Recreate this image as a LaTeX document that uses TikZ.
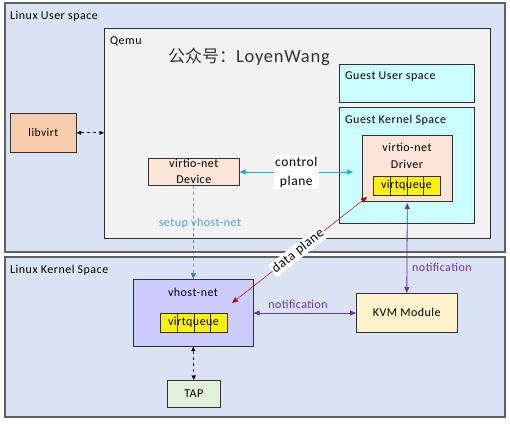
\documentclass[tikz,border=0pt]{standalone}
\usepackage{fontspec}
\setmainfont{Carlito}[LetterSpace=4]
\newfontfamily\cjk{Noto Sans CJK SC}
\usetikzlibrary{arrows.meta,shadows}
\definecolor{spacecol}{HTML}{DAE3F3}
\definecolor{qemucol}{HTML}{F2F2F2}
\definecolor{libvirtcol}{HTML}{F8CBAD}
\definecolor{devcol}{HTML}{FBE5D6}
\definecolor{guestcol}{HTML}{CCFFFF}
\definecolor{vhostcol}{HTML}{CCCCFF}
\definecolor{tapcol}{HTML}{E2F0D9}
\definecolor{kvmcol}{HTML}{FFF2CC}
\definecolor{purp}{HTML}{7030A0}
\definecolor{cblue}{HTML}{00B0F0}
\definecolor{sblue}{HTML}{4472C4}
\definecolor{stext}{HTML}{5B9BD5}
\definecolor{dred}{HTML}{C00000}
\definecolor{edge}{HTML}{303030}
\begin{document}
\begin{tikzpicture}[x=1pt,y=-1pt,
  font=\fontsize{12}{14}\selectfont,
  spacebox/.style={draw=gray!75!black,line width=1.2pt,fill=spacecol},
  bx/.style={draw=edge,line width=0.6pt,inner sep=0pt},
  shad/.style={drop shadow={shadow xshift=1pt,shadow yshift=-1pt,opacity=0.2}},
  lbl/.style={anchor=west,inner sep=0pt,text=black},
  tipa/.style={-{Triangle[width=5pt,length=6pt]}},
  tipb/.style={{Triangle[width=5pt,length=6pt]}-{Triangle[width=5pt,length=6pt]}},
  tips/.style={{Triangle[width=4pt,length=4.5pt]}-{Triangle[width=4pt,length=4.5pt]}},
]
\useasboundingbox (0,0) rectangle (510,425);
% spaces
\draw[spacebox] (5,3) rectangle (505,252);
\node[lbl] (uslbl) at (10,16) {Linux User space};
\draw[spacebox] (5,257) rectangle (505,417);
\node[lbl] (kslbl) at (10,270) {Linux Kernel Space};
% qemu
\node[bx,fill=qemucol,anchor=north west,minimum width=386pt,minimum height=210pt] (qemu) at (104,28) {};
\node[lbl] (qemulbl) at (110,41) {Qemu};
\node[anchor=west,inner sep=0pt,text=black!80] (title) at (168,57) {{\fontsize{17}{20}\selectfont\cjk 公众号：}{\fontsize{18.5}{22}\selectfont LoyenWang}};
% libvirt
\node[bx,shad,fill=libvirtcol,anchor=north west,minimum width=66pt,minimum height=39pt,font=\fontsize{11.5}{14}\selectfont] (libvirt) at (10,113) {libvirt};
% device
\node[bx,shad,fill=devcol,anchor=north west,minimum width=91pt,minimum height=27pt,align=center,font=\fontsize{12}{16}\selectfont] (device) at (148,158) {virtio-net\\Device};
% guest
\node[bx,fill=guestcol,anchor=north west,minimum width=135pt,minimum height=38pt] (guestuser) at (339,64) {};
\node[lbl] (gulbl) at (345,77) {Guest User space};
\node[bx,fill=guestcol,anchor=north west,minimum width=135pt,minimum height=116pt] (guestkernel) at (339,107) {};
\node[lbl] (gklbl) at (345,120) {Guest Kernel Space};
\node[bx,shad,fill=devcol,anchor=north west,minimum width=90pt,minimum height=66pt] (driver) at (362,135) {};
\node[inner sep=0pt,align=center,font=\fontsize{12}{16.5}\selectfont] (drvlbl) at (407,156) {virtio-net\\Driver};
% virtqueue in driver
\foreach \i in {0,1,2,3}{
  \node[bx,fill=yellow,anchor=north west,minimum width=16.75pt,minimum height=19pt] (dq\i) at (373+16.75*\i,176) {};
}
\node[inner sep=0pt] (dqlbl) at (406.5,185.5) {virtqueue};
% vhost-net
\node[bx,shad,fill=vhostcol,anchor=north west,minimum width=120pt,minimum height=67pt] (vhost) at (133,279) {};
\node[inner sep=0pt] (vhlbl) at (193,292) {vhost-net};
\foreach \i in {0,1,2,3}{
  \node[bx,fill=yellow,anchor=north west,minimum width=16.75pt,minimum height=19pt] (vq\i) at (160+16.75*\i,313) {};
}
\node[inner sep=0pt] (vqlbl) at (193.5,322.5) {virtqueue};
% TAP
\node[bx,shad,fill=tapcol,anchor=north west,minimum width=53pt,minimum height=27pt] (tap) at (167,380) {TAP};
% KVM
\node[bx,shad,fill=kvmcol,anchor=north west,minimum width=101pt,minimum height=39pt] (kvm) at (356,293) {KVM Module};
% connectors
\draw[tips,dashed,line width=0.7pt] (libvirt.east) -- (qemu.west |- libvirt.east);
\draw[tips,dashed,line width=0.7pt] (vhost.south) -- (tap.north);
\draw[tipa,dashed,sblue,line width=0.6pt] (device.south) -- (vhost.north);
\node[text=stext,inner sep=0pt] (setuplbl) at (200,223) {setup vhost-net};
\coordinate (cpend) at (353,172);
\draw[tipb,cblue,line width=0.7pt] (device.east |- cpend) -- (cpend) node[midway,fill=white,text=black,align=center,font=\fontsize{13.5}{19}\selectfont,inner sep=1.5pt] (cplbl) {control\\plane};
\coordinate (dpa) at (232,303);
\coordinate (dpb) at (367,197);
\draw[tipb,dred,line width=0.5pt] (dpa) -- (dpb) node[pos=0.49,sloped,fill=white,text=black,font=\fontsize{13.5}{16}\selectfont,inner sep=1.5pt] (dplbl) {data plane};
\draw[tipb,purp,line width=0.8pt] ([yshift=-1.5pt]driver.south) -- (kvm.north);
\node[lbl,text=purp] (n1lbl) at (412,267) {notification};
\draw[tipb,purp,line width=0.8pt] (vhost.east |- 0,313) -- (kvm.west |- 0,313);
\node[inner sep=0pt,text=purp] (n2lbl) at (298,304) {notification};
\end{tikzpicture}
\end{document}
